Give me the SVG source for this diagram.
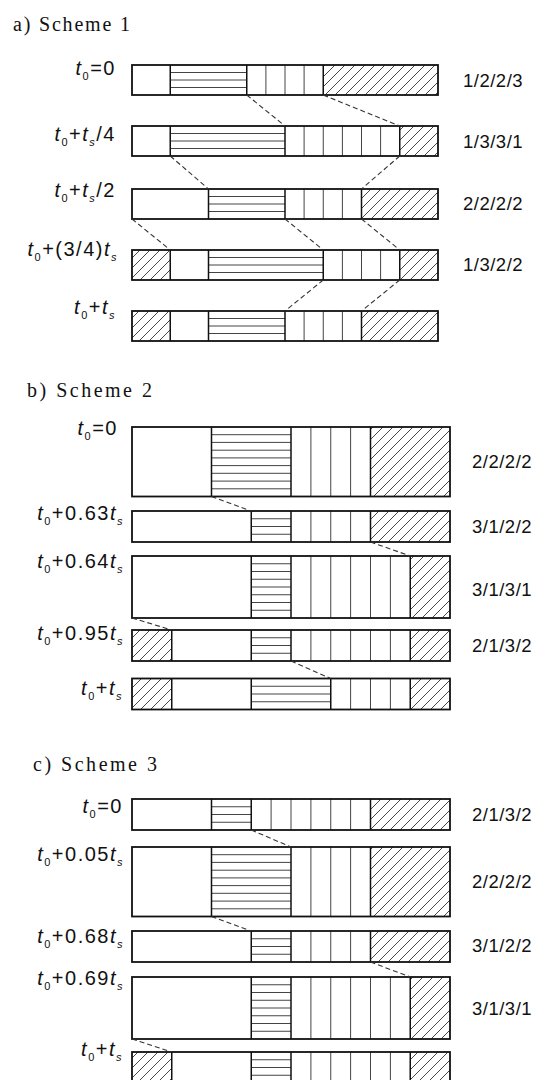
<svg xmlns="http://www.w3.org/2000/svg" width="557" height="1080" viewBox="0 0 557 1080">
<defs>
<pattern id="hatch" patternUnits="userSpaceOnUse" width="10" height="10">
<path d="M-1,1 L1,-1 M0,10 L10,0 M9,11 L11,9" stroke="#333" stroke-width="0.9" fill="none"/>
</pattern>
<style>
.h{fill:url(#hatch);stroke:none}
.in{fill:none;stroke:#444;stroke-width:1}
.dv{fill:none;stroke:#111;stroke-width:1.5}
.o{fill:none;stroke:#111;stroke-width:1.8}
.cn{fill:none;stroke:#333;stroke-width:1.1;stroke-dasharray:5 3}
.ti{font-family:"Liberation Serif",serif;font-size:20px;fill:#111}
.lb{font-family:"Liberation Sans",Arial,sans-serif;font-size:20px;letter-spacing:1.5px;fill:#111;text-anchor:end}
.lb .i{font-style:italic}
.lb .sb{font-size:11px}
.rl{font-family:"Liberation Sans",Arial,sans-serif;font-size:18.5px;letter-spacing:0.5px;fill:#111}
</style>
</defs>
<rect width="557" height="1080" fill="#fff"/>

<!-- Titles -->
<text class="ti" x="13" y="31" textLength="117" lengthAdjust="spacing">a) Scheme 1</text>
<text class="ti" x="27" y="397" textLength="125" lengthAdjust="spacing">b) Scheme 2</text>
<text class="ti" x="33" y="771" textLength="124" lengthAdjust="spacing">c) Scheme 3</text>

<!-- Scheme 1 -->
<g id="a-r1">
<rect class="h" x="323.25" y="65" width="114.75" height="30"/>
<path class="in" d="M170.25 72.5H246.75M170.25 80H246.75M170.25 87.5H246.75M265.9 65V95M285 65V95M304.1 65V95"/>
<path class="dv" d="M170.25 65V95M246.75 65V95M323.25 65V95"/>
<rect class="o" x="132" y="65" width="306" height="30"/>
</g>
<g id="a-r2">
<rect class="h" x="399.75" y="126" width="38.25" height="30"/>
<path class="in" d="M170.25 133.5H285M170.25 141H285M170.25 148.5H285M304.1 126V156M323.25 126V156M342.4 126V156M361.5 126V156M380.6 126V156"/>
<path class="dv" d="M170.25 126V156M285 126V156M399.75 126V156"/>
<rect class="o" x="132" y="126" width="306" height="30"/>
</g>
<g id="a-r3">
<rect class="h" x="361.5" y="189" width="76.5" height="30"/>
<path class="in" d="M208.5 196.5H285M208.5 204H285M208.5 211.5H285M304.1 189V219M323.25 189V219M342.4 189V219"/>
<path class="dv" d="M208.5 189V219M285 189V219M361.5 189V219"/>
<rect class="o" x="132" y="189" width="306" height="30"/>
</g>
<g id="a-r4">
<rect class="h" x="132" y="250" width="38.25" height="30"/>
<rect class="h" x="399.75" y="250" width="38.25" height="30"/>
<path class="in" d="M208.5 257.5H323.25M208.5 265H323.25M208.5 272.5H323.25M342.4 250V280M361.5 250V280M380.6 250V280"/>
<path class="dv" d="M170.25 250V280M208.5 250V280M323.25 250V280M399.75 250V280"/>
<rect class="o" x="132" y="250" width="306" height="30"/>
</g>
<g id="a-r5">
<rect class="h" x="132" y="311" width="38.25" height="30"/>
<rect class="h" x="361.5" y="311" width="76.5" height="30"/>
<path class="in" d="M208.5 318.5H285M208.5 326H285M208.5 333.5H285M304.1 311V341M323.25 311V341M342.4 311V341"/>
<path class="dv" d="M170.25 311V341M208.5 311V341M285 311V341M361.5 311V341"/>
<rect class="o" x="132" y="311" width="306" height="30"/>
</g>

<!-- Scheme 2 -->
<g id="b-r1">
<rect class="h" x="370.5" y="427" width="79.5" height="69.5"/>
<path class="in" d="M211.5 434.7H291M211.5 442.4H291M211.5 450.2H291M211.5 457.9H291M211.5 465.6H291M211.5 473.3H291M211.5 481.1H291M211.5 488.8H291M310.9 427V496.5M330.75 427V496.5M350.6 427V496.5"/>
<path class="dv" d="M211.5 427V496.5M291 427V496.5M370.5 427V496.5"/>
<rect class="o" x="132" y="427" width="318" height="69.5"/>
</g>
<g id="b-r2">
<rect class="h" x="370.5" y="511" width="79.5" height="31"/>
<path class="in" d="M251.25 518.75H291M251.25 526.5H291M251.25 534.25H291M310.9 511V542M330.75 511V542M350.6 511V542"/>
<path class="dv" d="M251.25 511V542M291 511V542M370.5 511V542"/>
<rect class="o" x="132" y="511" width="318" height="31"/>
</g>
<g id="b-r3">
<rect class="h" x="410.25" y="556" width="39.75" height="62"/>
<path class="in" d="M251.25 563.75H291M251.25 571.5H291M251.25 579.25H291M251.25 587H291M251.25 594.75H291M251.25 602.5H291M251.25 610.25H291M310.9 556V618M330.75 556V618M350.6 556V618M370.5 556V618M390.4 556V618"/>
<path class="dv" d="M251.25 556V618M291 556V618M410.25 556V618"/>
<rect class="o" x="132" y="556" width="318" height="62"/>
</g>
<g id="b-r4">
<rect class="h" x="132" y="630" width="39.75" height="31"/>
<rect class="h" x="410.25" y="630" width="39.75" height="31"/>
<path class="in" d="M251.25 637.75H291M251.25 645.5H291M251.25 653.25H291M310.9 630V661M330.75 630V661M350.6 630V661M370.5 630V661M390.4 630V661"/>
<path class="dv" d="M171.75 630V661M251.25 630V661M291 630V661M410.25 630V661"/>
<rect class="o" x="132" y="630" width="318" height="31"/>
</g>
<g id="b-r5">
<rect class="h" x="132" y="678.5" width="39.75" height="31"/>
<rect class="h" x="410.25" y="678.5" width="39.75" height="31"/>
<path class="in" d="M251.25 686.25H330.75M251.25 694H330.75M251.25 701.75H330.75M350.6 678.5V709.5M370.5 678.5V709.5M390.4 678.5V709.5"/>
<path class="dv" d="M171.75 678.5V709.5M251.25 678.5V709.5M330.75 678.5V709.5M410.25 678.5V709.5"/>
<rect class="o" x="132" y="678.5" width="318" height="31"/>
</g>

<!-- Scheme 3 -->
<g id="c-r1">
<rect class="h" x="370.5" y="799" width="79.5" height="31"/>
<path class="in" d="M211.5 806.75H251.25M211.5 814.5H251.25M211.5 822.25H251.25M271.1 799V830M291 799V830M310.9 799V830M330.75 799V830M350.6 799V830"/>
<path class="dv" d="M211.5 799V830M251.25 799V830M370.5 799V830"/>
<rect class="o" x="132" y="799" width="318" height="31"/>
</g>
<g id="c-r2">
<rect class="h" x="370.5" y="847" width="79.5" height="69.5"/>
<path class="in" d="M211.5 854.7H291M211.5 862.4H291M211.5 870.2H291M211.5 877.9H291M211.5 885.6H291M211.5 893.3H291M211.5 901.1H291M211.5 908.8H291M310.9 847V916.5M330.75 847V916.5M350.6 847V916.5"/>
<path class="dv" d="M211.5 847V916.5M291 847V916.5M370.5 847V916.5"/>
<rect class="o" x="132" y="847" width="318" height="69.5"/>
</g>
<g id="c-r3">
<rect class="h" x="370.5" y="931" width="79.5" height="31"/>
<path class="in" d="M251.25 938.75H291M251.25 946.5H291M251.25 954.25H291M310.9 931V962M330.75 931V962M350.6 931V962"/>
<path class="dv" d="M251.25 931V962M291 931V962M370.5 931V962"/>
<rect class="o" x="132" y="931" width="318" height="31"/>
</g>
<g id="c-r4">
<rect class="h" x="410.25" y="977" width="39.75" height="62"/>
<path class="in" d="M251.25 984.75H291M251.25 992.5H291M251.25 1000.25H291M251.25 1008H291M251.25 1015.75H291M251.25 1023.5H291M251.25 1031.25H291M310.9 977V1039M330.75 977V1039M350.6 977V1039M370.5 977V1039M390.4 977V1039"/>
<path class="dv" d="M251.25 977V1039M291 977V1039M410.25 977V1039"/>
<rect class="o" x="132" y="977" width="318" height="62"/>
</g>
<g id="c-r5">
<rect class="h" x="132" y="1052" width="39.75" height="31"/>
<rect class="h" x="410.25" y="1052" width="39.75" height="31"/>
<path class="in" d="M251.25 1059.75H291M251.25 1067.5H291M251.25 1075.25H291M310.9 1052V1083M330.75 1052V1083M350.6 1052V1083M370.5 1052V1083M390.4 1052V1083"/>
<path class="dv" d="M171.75 1052V1083M251.25 1052V1083M291 1052V1083M410.25 1052V1083"/>
<rect class="o" x="132" y="1052" width="318" height="31"/>
</g>

<!-- Connectors -->
<g id="connectors">
<path class="cn" d="M246.75 95L285 126M323.25 95L399.75 126"/>
<path class="cn" d="M170.25 156L208.5 189M399.75 156L361.5 189"/>
<path class="cn" d="M132 219L170.25 250M285 219L323.25 250M361.5 219L399.75 250"/>
<path class="cn" d="M323.25 280L285 311M399.75 280L361.5 311"/>
<path class="cn" d="M211.5 496.5L251.25 511M370.5 542L410.25 556M132 618L171.75 630M291 661L330.75 678.5"/>
<path class="cn" d="M251.25 830L291 847M211.5 916.5L251.25 931M370.5 962L410.25 977M132 1039L171.75 1052"/>
</g>

<!-- Left labels -->
<g id="labels-left">
<text class="lb" x="116" y="75"><tspan class="i">t</tspan><tspan class="sb" dy="5">0</tspan><tspan dy="-5">=0</tspan></text>
<text class="lb" x="116" y="141"><tspan class="i">t</tspan><tspan class="sb" dy="5">0</tspan><tspan dy="-5">+</tspan><tspan class="i">t</tspan><tspan class="sb i" dy="5">s</tspan><tspan dy="-5">/4</tspan></text>
<text class="lb" x="116" y="197"><tspan class="i">t</tspan><tspan class="sb" dy="5">0</tspan><tspan dy="-5">+</tspan><tspan class="i">t</tspan><tspan class="sb i" dy="5">s</tspan><tspan dy="-5">/2</tspan></text>
<text class="lb" x="118" y="256"><tspan class="i">t</tspan><tspan class="sb" dy="5">0</tspan><tspan dy="-5">+(3/4)</tspan><tspan class="i">t</tspan><tspan class="sb i" dy="5">s</tspan></text>
<text class="lb" x="116" y="314"><tspan class="i">t</tspan><tspan class="sb" dy="5">0</tspan><tspan dy="-5">+</tspan><tspan class="i">t</tspan><tspan class="sb i" dy="5">s</tspan></text>

<text class="lb" x="118" y="435"><tspan class="i">t</tspan><tspan class="sb" dy="5">0</tspan><tspan dy="-5">=0</tspan></text>
<text class="lb" x="124" y="520"><tspan class="i">t</tspan><tspan class="sb" dy="5">0</tspan><tspan dy="-5">+0.63</tspan><tspan class="i">t</tspan><tspan class="sb i" dy="5">s</tspan></text>
<text class="lb" x="124" y="568"><tspan class="i">t</tspan><tspan class="sb" dy="5">0</tspan><tspan dy="-5">+0.64</tspan><tspan class="i">t</tspan><tspan class="sb i" dy="5">s</tspan></text>
<text class="lb" x="124" y="640"><tspan class="i">t</tspan><tspan class="sb" dy="5">0</tspan><tspan dy="-5">+0.95</tspan><tspan class="i">t</tspan><tspan class="sb i" dy="5">s</tspan></text>
<text class="lb" x="123" y="695"><tspan class="i">t</tspan><tspan class="sb" dy="5">0</tspan><tspan dy="-5">+</tspan><tspan class="i">t</tspan><tspan class="sb i" dy="5">s</tspan></text>

<text class="lb" x="123" y="813"><tspan class="i">t</tspan><tspan class="sb" dy="5">0</tspan><tspan dy="-5">=0</tspan></text>
<text class="lb" x="124" y="861"><tspan class="i">t</tspan><tspan class="sb" dy="5">0</tspan><tspan dy="-5">+0.05</tspan><tspan class="i">t</tspan><tspan class="sb i" dy="5">s</tspan></text>
<text class="lb" x="124" y="943"><tspan class="i">t</tspan><tspan class="sb" dy="5">0</tspan><tspan dy="-5">+0.68</tspan><tspan class="i">t</tspan><tspan class="sb i" dy="5">s</tspan></text>
<text class="lb" x="124" y="985"><tspan class="i">t</tspan><tspan class="sb" dy="5">0</tspan><tspan dy="-5">+0.69</tspan><tspan class="i">t</tspan><tspan class="sb i" dy="5">s</tspan></text>
<text class="lb" x="123" y="1056"><tspan class="i">t</tspan><tspan class="sb" dy="5">0</tspan><tspan dy="-5">+</tspan><tspan class="i">t</tspan><tspan class="sb i" dy="5">s</tspan></text>
</g>

<!-- Right labels -->
<g id="labels-right">
<text class="rl" x="463" y="87">1/2/2/3</text>
<text class="rl" x="463" y="148">1/3/3/1</text>
<text class="rl" x="463" y="210">2/2/2/2</text>
<text class="rl" x="463" y="271">1/3/2/2</text>
<text class="rl" x="472" y="468">2/2/2/2</text>
<text class="rl" x="472" y="533">3/1/2/2</text>
<text class="rl" x="472" y="596">3/1/3/1</text>
<text class="rl" x="472" y="652">2/1/3/2</text>
<text class="rl" x="472" y="821">2/1/3/2</text>
<text class="rl" x="472" y="888">2/2/2/2</text>
<text class="rl" x="472" y="952">3/1/2/2</text>
<text class="rl" x="472" y="1015">3/1/3/1</text>
</g>
</svg>
